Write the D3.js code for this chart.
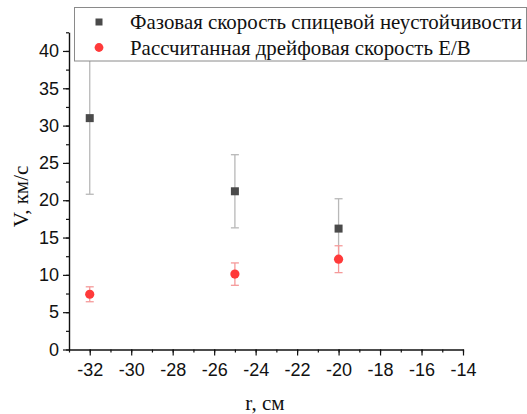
<!DOCTYPE html>
<html>
<head>
<meta charset="utf-8">
<script src="https://cdn.jsdelivr.net/npm/d3@7"></script>
<style>
  html, body { margin: 0; padding: 0; background: #fff; }
  svg { display: block; }
  .serif { font-family: "Liberation Serif", "Times New Roman", Tinos, "DejaVu Serif", serif; }
  .sans { font-family: "Liberation Sans", Arial, Arimo, sans-serif; }
</style>
</head>
<body>
<svg id="chart" width="527" height="414"></svg>
<script>
// Radial positions, cm
const radius = [-32, -25, -20];
// Phase velocity of the spoke instability, km/s, and its uncertainty
const phaseVelocity = [31.0, 21.2, 16.2];
const phaseError = [10.2, 4.9, 4.0];
// Calculated E/B drift velocity, km/s, and its uncertainty
const driftVelocity = [7.4, 10.1, 12.1];
const driftError = [1.0, 1.5, 1.8];

const xTicks = [-32, -30, -28, -26, -24, -22, -20, -18, -16, -14];
const yTicks = [0, 5, 10, 15, 20, 25, 30, 35, 40];
const legendLabels = [
  "Фазовая скорость спицевой неустойчивости",
  "Рассчитанная дрейфовая скорость E/B"
];

const svg = d3.select("#chart");
const plotLeft = 69, plotRight = 463, plotTop = 32.3, plotBottom = 349.5;

const x = d3.scaleLinear().domain([-33, -14]).range([plotLeft, plotRight]);
const y = d3.scaleLinear().domain([0, 42.5]).range([plotBottom, plotTop]);

// Minor ticks
svg.append("g")
  .attr("transform", `translate(0,${plotBottom})`)
  .call(d3.axisBottom(x).tickValues(d3.range(-33, -13, 1)).tickSize(3).tickFormat(""))
  .call(g => g.select(".domain").remove());
svg.append("g")
  .attr("transform", `translate(${plotLeft},0)`)
  .call(d3.axisLeft(y).tickValues(d3.range(0, 42.6, 2.5)).tickSize(3).tickFormat(""))
  .call(g => g.select(".domain").remove());

// Major ticks and labels
const xAxis = svg.append("g")
  .attr("transform", `translate(0,${plotBottom})`)
  .call(d3.axisBottom(x).tickValues(xTicks).tickSize(6).tickSizeOuter(0).tickPadding(7.5).tickFormat(d => d));
const yAxis = svg.append("g")
  .attr("transform", `translate(${plotLeft},0)`)
  .call(d3.axisLeft(y).tickValues(yTicks).tickSize(6).tickSizeOuter(0).tickPadding(4).tickFormat(d => d));

[xAxis, yAxis].forEach(g => {
  g.attr("font-family", null);
  g.selectAll("text").attr("class", "sans").style("font-size", "18px").attr("fill", "#111");
  g.select(".domain").attr("stroke", "#111").attr("stroke-width", 1.4);
});
svg.selectAll("g line").attr("stroke", "#111").attr("stroke-width", 1.2);

// Axis titles
svg.append("text")
  .attr("class", "serif")
  .attr("x", (x(-33) + x(-14)) / 2 - 1)
  .attr("y", 410)
  .attr("text-anchor", "middle")
  .style("font-size", "21px")
  .attr("fill", "#111")
  .text("r, см");
svg.append("text")
  .attr("class", "serif")
  .attr("transform", `translate(28,${y(20.5)}) rotate(-90)`)
  .attr("text-anchor", "middle")
  .style("font-size", "21px")
  .attr("fill", "#111")
  .text("V, км/с");

const capW = 4;
function errorBars(values, errors, color) {
  const g = svg.append("g").attr("stroke", color).attr("stroke-width", 1.3);
  radius.forEach((r, i) => {
    const cx = x(r), y1 = y(values[i] + errors[i]), y2 = y(values[i] - errors[i]);
    g.append("line").attr("x1", cx).attr("x2", cx).attr("y1", y1).attr("y2", y2);
    g.append("line").attr("x1", cx - capW).attr("x2", cx + capW).attr("y1", y1).attr("y2", y1);
    g.append("line").attr("x1", cx - capW).attr("x2", cx + capW).attr("y1", y2).attr("y2", y2);
  });
}

errorBars(phaseVelocity, phaseError, "#b8b8b8");
errorBars(driftVelocity, driftError, "#f59a9a");

svg.append("g").selectAll("rect")
  .data(radius)
  .join("rect")
  .attr("x", (d) => x(d) - 4)
  .attr("y", (d, i) => y(phaseVelocity[i]) - 4)
  .attr("width", 8).attr("height", 8)
  .attr("fill", "#4a4a4a");

svg.append("g").selectAll("circle")
  .data(radius)
  .join("circle")
  .attr("cx", (d) => x(d))
  .attr("cy", (d, i) => y(driftVelocity[i]))
  .attr("r", 4.6)
  .attr("fill", "#ff3a3a");

// Legend
const legend = svg.append("g");
legend.append("rect")
  .attr("x", 74.5).attr("y", 7.5).attr("width", 452).attr("height", 53.5)
  .attr("fill", "#fff").attr("stroke", "#8a8a8a").attr("stroke-width", 1);
legend.append("rect").attr("x", 95.5).attr("y", 18.5).attr("width", 7).attr("height", 7).attr("fill", "#4a4a4a");
legend.append("circle").attr("cx", 99).attr("cy", 47.5).attr("r", 4.4).attr("fill", "#ff3a3a");
const legendTexts = legendLabels.map((t, i) =>
  legend.append("text")
    .attr("class", "serif")
    .attr("x", 130).attr("y", 29 + i * 25.5)
    .style("font-size", "20px")
    .attr("fill", "#111")
    .text(t));
// Size the legend font so the longest entry fits inside the box
const longest = legendTexts[0].node().getComputedTextLength();
const legendSize = Math.min(21, 20 * 392 / longest);
legendTexts.forEach(t => t.style("font-size", legendSize + "px"));
</script>
</body>
</html>
